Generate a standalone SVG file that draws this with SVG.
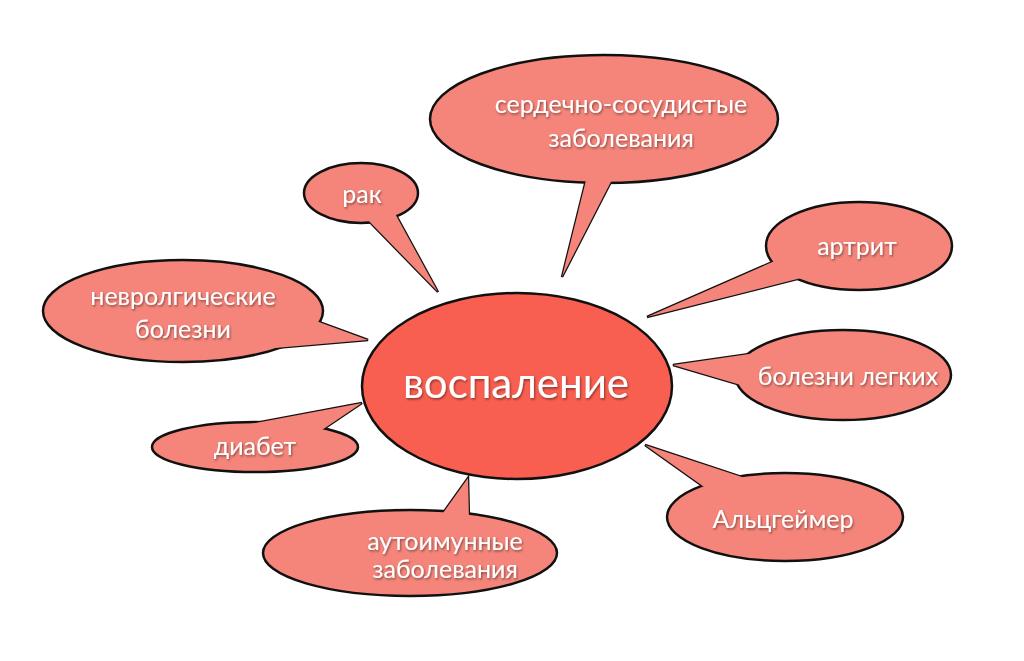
<svg xmlns="http://www.w3.org/2000/svg" width="1024" height="661" viewBox="0 0 1024 661">
<defs>
<filter id="ts" x="-10%" y="-30%" width="120%" height="160%">
<feDropShadow dx="1" dy="1.5" stdDeviation="1.2" flood-color="#000" flood-opacity="0.45"/>
</filter>
</defs>
<style>
.b{fill:#F5857A;stroke:#111;stroke-width:2.5;stroke-linejoin:miter}
.bf{fill:#F5857A;stroke:none}
.c{fill:#F95F50;stroke:#111;stroke-width:2.5}
.t{font-family:Lato,"Open Sans","DejaVu Sans",sans-serif;font-size:25px;fill:#fff;text-anchor:middle;filter:url(#ts)}
.ct{font-family:Lato,"Open Sans","DejaVu Sans",sans-serif;font-size:42px;fill:#fff;text-anchor:middle;filter:url(#ts)}
</style>
<rect width="1024" height="661" fill="#fff"/>
<g id="connectors">
<polygon class="b" points="589,168 618,168 562,277"/>
<polygon class="b" points="363,215 392,208 438,292"/>
<polygon class="b" points="308,318 368,340 275,348"/>
<polygon class="b" points="250,424 362,403 316,434"/>
<polygon class="b" points="647,317 786,256 813,275"/>
<polygon class="b" points="673,365 756,353 744,386"/>
<polygon class="b" points="645,445 751,480 714,494"/>
<polygon class="b" points="468,478 438,520 469,520"/>
</g>
<g id="cardio">
<ellipse class="b" cx="604" cy="119" rx="174" ry="64"/>
<polygon class="bf" points="589,168 618,168 562,277"/>
<text class="t" x="621" y="113">сердечно-сосудистые</text>
<text class="t" x="621" y="147">заболевания</text>
</g>
<g id="cancer">
<ellipse class="b" cx="361" cy="193" rx="57" ry="30"/>
<polygon class="bf" points="363,215 392,208 438,292"/>
<text class="t" x="362" y="203">рак</text>
</g>
<g id="neuro">
<ellipse class="b" cx="183" cy="311" rx="140" ry="51"/>
<polygon class="bf" points="308,318 368,340 275,348"/>
<text class="t" x="183" y="305">невролгические</text>
<text class="t" x="183" y="338">болезни</text>
</g>
<g id="diabetes">
<ellipse class="b" cx="255" cy="447" rx="103" ry="25"/>
<polygon class="bf" points="250,424 362,403 316,434"/>
<text class="t" x="255" y="455">диабет</text>
</g>
<g id="arthritis">
<ellipse class="b" cx="859" cy="246" rx="93" ry="44"/>
<polygon class="bf" points="647,317 786,256 813,275"/>
<text class="t" x="857" y="255">артрит</text>
</g>
<g id="lungs">
<ellipse class="b" cx="843" cy="375" rx="108" ry="45"/>
<polygon class="bf" points="673,365 756,353 744,386"/>
<text class="t" x="848" y="385">болезни легких</text>
</g>
<g id="alzheimer">
<ellipse class="b" cx="785" cy="517" rx="118" ry="44"/>
<polygon class="bf" points="645,445 751,480 714,494"/>
<text class="t" x="783" y="528">Альцгеймер</text>
</g>
<g id="autoimmune">
<ellipse class="b" cx="410" cy="553" rx="147" ry="43"/>
<polygon class="bf" points="468,478 438,520 469,520"/>
<text class="t" x="445" y="550">аутоимунные</text>
<text class="t" x="445" y="578">заболевания</text>
</g>
<g id="inflammation">
<ellipse class="c" cx="517" cy="386" rx="155" ry="93"/>
<text class="ct" x="516" y="398">воспаление</text>
</g>
</svg>
